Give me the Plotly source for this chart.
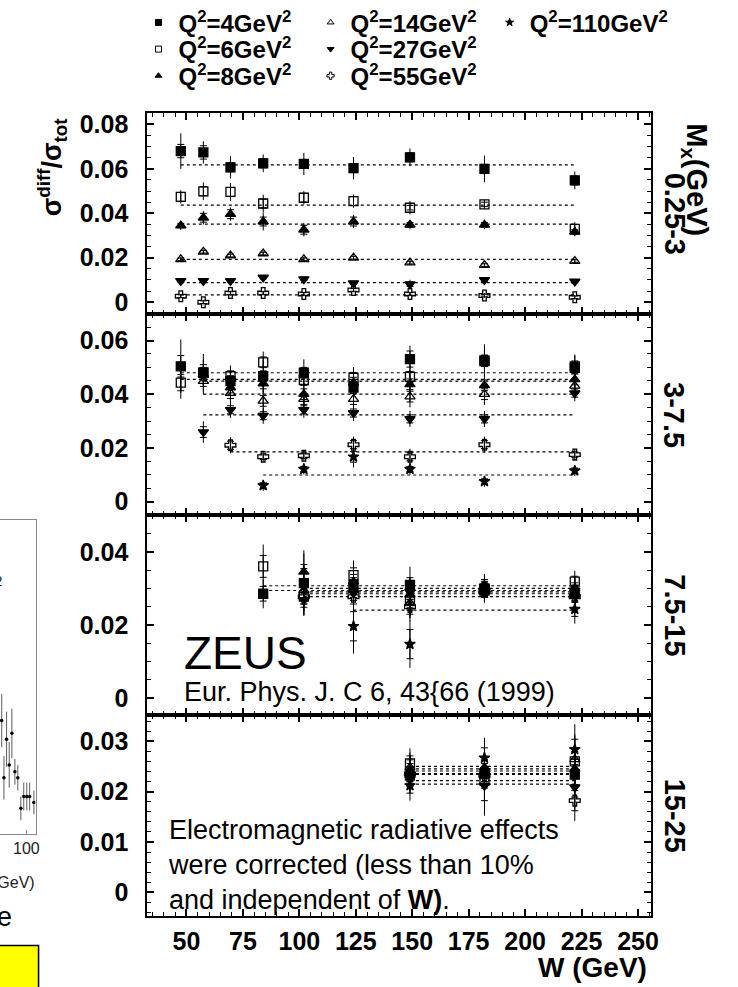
import plotly.graph_objects as go

# ---------------- data ----------------
W_BINS = [47.5, 57.5, 69.5, 84.0, 102.0, 124.0, 149.0, 182.0, 222.0]
Q2_VALUES = [4, 6, 8, 14, 27, 55, 110]
MX_BINS = ["0.25-3", "3-7.5", "7.5-15", "15-25"]
X_TICKS = [50, 75, 100, 125, 150, 175, 200, 225, 250]
N = None

# ---- M_X 0.25-3 GeV ----
P1_Q4 = [0.0680, 0.0674, 0.0607, 0.0625, 0.0622, 0.0603, 0.0652, 0.0600, 0.0548]
P1_Q4_TOT = [0.008, 0.005, 0.005, 0.004, 0.005, 0.005, 0.004, 0.006, 0.004]
P1_Q4_STAT = [0.003, 0.003, 0.002, 0.002, 0.002, 0.002, 0.002, 0.002, 0.002]
P1_Q6 = [0.0474, 0.0499, 0.0496, 0.0444, 0.0470, 0.0455, 0.0425, 0.0440, 0.0330]
P1_Q6_TOT = [0.003, 0.004, 0.004, 0.004, 0.003, 0.003, 0.003, 0.002, 0.003]
P1_Q6_STAT = [0.002, 0.002, 0.002, 0.002, 0.002, 0.002, 0.001, 0.001, 0.002]
P1_Q8 = [0.0345, 0.0380, 0.0396, 0.0363, 0.0326, 0.0363, 0.0348, 0.0348, 0.0316]
P1_Q8_TOT = [0.002, 0.003, 0.003, 0.004, 0.003, 0.003, 0.002, 0.002, 0.002]
P1_Q8_STAT = [0.001, 0.002, 0.002, 0.002, 0.002, 0.002, 0.001, 0.001, 0.001]
P1_Q14 = [0.0193, 0.0227, 0.0210, 0.0219, 0.0193, 0.0200, 0.0178, 0.0167, 0.0185]
P1_Q14_TOT = [0.001, 0.001, 0.001, 0.001, 0.001, 0.001, 0.001, 0.001, 0.001]
P1_Q14_STAT = [0.0006, 0.0006, 0.0006, 0.0006, 0.0006, 0.0006, 0.0006, 0.0006, 0.0006]
P1_Q27 = [0.0096, 0.0096, 0.0096, 0.0111, 0.0104, 0.0086, 0.0081, 0.0100, 0.0093]
P1_Q27_TOT = [0.001, 0.001, 0.001, 0.001, 0.001, 0.001, 0.002, 0.001, 0.001]
P1_Q27_STAT = [0.0006, 0.0006, 0.0006, 0.0006, 0.0006, 0.0006, 0.0010, 0.0006, 0.0006]
P1_Q55 = [0.0027, 0.0000, 0.0041, 0.0041, 0.0037, 0.0055, 0.0037, 0.0030, 0.0022]
P1_Q55_TOT = [0.001, 0.001, 0.001, 0.001, 0.001, 0.001, 0.001, 0.001, 0.001]
P1_Q55_STAT = [0.0006, 0.0006, 0.0006, 0.0006, 0.0006, 0.0006, 0.0006, 0.0006, 0.0006]
P1_Q110 = [N, N, N, N, N, N, N, N, N]
P1_Q110_TOT = [N, N, N, N, N, N, N, N, N]
P1_Q110_STAT = [N, N, N, N, N, N, N, N, N]
P1_FIT = [0.0618, 0.0437, 0.0351, 0.0193, 0.0088, 0.0033, N]

# ---- M_X 3-7.5 GeV ----
P2_Q4 = [0.0504, 0.0480, 0.0449, 0.0467, 0.0480, 0.0425, 0.0531, 0.0526, 0.0498]
P2_Q4_TOT = [0.010, 0.007, 0.005, 0.006, 0.005, 0.005, 0.005, 0.006, 0.005]
P2_Q4_STAT = [0.004, 0.003, 0.002, 0.002, 0.002, 0.002, 0.003, 0.002, 0.002]
P2_Q6 = [0.0443, 0.0480, 0.0467, 0.0519, 0.0453, 0.0461, 0.0465, 0.0523, 0.0504]
P2_Q6_TOT = [0.006, 0.005, 0.004, 0.004, 0.004, 0.004, 0.004, 0.004, 0.004]
P2_Q6_STAT = [0.003, 0.002, 0.002, 0.002, 0.002, 0.002, 0.002, 0.002, 0.002]
P2_Q8 = [N, 0.0474, 0.0425, 0.0440, 0.0400, 0.0443, 0.0437, 0.0433, 0.0455]
P2_Q8_TOT = [N, 0.005, 0.004, 0.004, 0.004, 0.004, 0.004, 0.004, 0.004]
P2_Q8_STAT = [N, 0.002, 0.002, 0.002, 0.002, 0.002, 0.002, 0.002, 0.002]
P2_Q14 = [N, 0.0449, 0.0404, 0.0375, 0.0382, 0.0382, 0.0391, 0.0400, 0.0431]
P2_Q14_TOT = [N, 0.005, 0.004, 0.004, 0.004, 0.004, 0.004, 0.004, 0.004]
P2_Q14_STAT = [N, 0.002, 0.002, 0.002, 0.002, 0.002, 0.002, 0.002, 0.002]
P2_Q27 = [N, 0.0259, 0.0342, 0.0320, 0.0342, 0.0330, 0.0308, 0.0308, 0.0404]
P2_Q27_TOT = [N, 0.004, 0.003, 0.003, 0.003, 0.003, 0.003, 0.003, 0.003]
P2_Q27_STAT = [N, 0.002, 0.0015, 0.0015, 0.0015, 0.0015, 0.0015, 0.0015, 0.0015]
P2_Q55 = [N, N, 0.0210, 0.0167, 0.0171, 0.0212, 0.0167, 0.0212, 0.0175]
P2_Q55_TOT = [N, N, 0.003, 0.002, 0.002, 0.003, 0.003, 0.003, 0.002]
P2_Q55_STAT = [N, N, 0.0015, 0.001, 0.001, 0.0015, 0.0015, 0.0015, 0.001]
P2_Q110 = [N, N, N, 0.0060, 0.0121, 0.0167, 0.0121, 0.0075, 0.0115]
P2_Q110_TOT = [N, N, N, 0.002, 0.002, 0.004, 0.002, 0.002, 0.002]
P2_Q110_STAT = [N, N, N, 0.001, 0.001, 0.002, 0.001, 0.001, 0.001]
P2_FIT = [0.0480, 0.0455, 0.0449, 0.0400, 0.0323, 0.0185, 0.0099]

# ---- M_X 7.5-15 GeV ----
P3_Q4 = [N, N, N, 0.0285, 0.0314, 0.0309, 0.0309, 0.0294, 0.0287]
P3_Q4_TOT = [N, N, N, 0.004, 0.009, 0.005, 0.005, 0.003, 0.004]
P3_Q4_STAT = [N, N, N, 0.002, 0.004, 0.002, 0.002, 0.0015, 0.002]
P3_Q6 = [N, N, N, 0.0360, 0.0277, 0.0336, 0.0268, 0.0300, 0.0318]
P3_Q6_TOT = [N, N, N, 0.006, 0.005, 0.004, 0.005, 0.003, 0.003]
P3_Q6_STAT = [N, N, N, 0.003, 0.002, 0.002, 0.002, 0.0015, 0.0015]
P3_Q8 = [N, N, N, N, 0.0345, 0.0318, 0.0282, 0.0309, 0.0300]
P3_Q8_TOT = [N, N, N, N, 0.005, 0.004, 0.004, 0.003, 0.003]
P3_Q8_STAT = [N, N, N, N, 0.002, 0.002, 0.002, 0.0015, 0.0015]
P3_Q14 = [N, N, N, N, 0.0294, 0.0295, 0.0260, 0.0290, 0.0287]
P3_Q14_TOT = [N, N, N, N, 0.004, 0.004, 0.004, 0.003, 0.003]
P3_Q14_STAT = [N, N, N, N, 0.002, 0.002, 0.002, 0.0015, 0.0015]
P3_Q27 = [N, N, N, N, 0.0268, 0.0287, 0.0290, 0.0304, 0.0294]
P3_Q27_TOT = [N, N, N, N, 0.004, 0.004, 0.004, 0.003, 0.003]
P3_Q27_STAT = [N, N, N, N, 0.002, 0.002, 0.002, 0.0015, 0.0015]
P3_Q55 = [N, N, N, N, 0.0277, 0.0277, 0.0249, 0.0294, 0.0277]
P3_Q55_TOT = [N, N, N, N, 0.004, 0.004, 0.004, 0.003, 0.003]
P3_Q55_STAT = [N, N, N, N, 0.002, 0.002, 0.002, 0.0015, 0.0015]
P3_Q110 = [N, N, N, N, N, 0.0196, 0.0147, 0.0287, 0.0243]
P3_Q110_TOT = [N, N, N, N, N, 0.0075, 0.0065, 0.002, 0.004]
P3_Q110_STAT = [N, N, N, N, N, 0.004, 0.004, 0.001, 0.002]
P3_FIT = [0.0294, 0.0307, 0.0300, 0.0285, 0.0290, 0.0277, 0.0240]

# ---- M_X 15-25 GeV ----
P4_Q4 = [N, N, N, N, N, N, 0.0232, 0.0235, 0.0234]
P4_Q4_TOT = [N, N, N, N, N, N, 0.003, 0.003, 0.004]
P4_Q4_STAT = [N, N, N, N, N, N, 0.0015, 0.0015, 0.002]
P4_Q6 = [N, N, N, N, N, N, 0.0256, 0.0222, 0.0260]
P4_Q6_TOT = [N, N, N, N, N, N, 0.003, 0.003, 0.005]
P4_Q6_STAT = [N, N, N, N, N, N, 0.0015, 0.0015, 0.002]
P4_Q8 = [N, N, N, N, N, N, 0.0241, 0.0248, 0.0245]
P4_Q8_TOT = [N, N, N, N, N, N, 0.003, 0.003, 0.004]
P4_Q8_STAT = [N, N, N, N, N, N, 0.0015, 0.0015, 0.002]
P4_Q14 = [N, N, N, N, N, N, 0.0248, 0.0241, 0.0264]
P4_Q14_TOT = [N, N, N, N, N, N, 0.003, 0.003, 0.005]
P4_Q14_STAT = [N, N, N, N, N, N, 0.0015, 0.0015, 0.002]
P4_Q27 = [N, N, N, N, N, N, 0.0225, 0.0212, 0.0209]
P4_Q27_TOT = [N, N, N, N, N, N, 0.003, 0.006, 0.004]
P4_Q27_STAT = [N, N, N, N, N, N, 0.0015, 0.003, 0.002]
P4_Q55 = [N, N, N, N, N, N, 0.0235, 0.0232, 0.0182]
P4_Q55_TOT = [N, N, N, N, N, N, 0.003, 0.003, 0.004]
P4_Q55_STAT = [N, N, N, N, N, N, 0.0015, 0.0015, 0.002]
P4_Q110 = [N, N, N, N, N, N, 0.0212, 0.0267, 0.0284]
P4_Q110_TOT = [N, N, N, N, N, N, 0.003, 0.004, 0.005]
P4_Q110_STAT = [N, N, N, N, N, N, 0.0015, 0.002, 0.002]
P4_FIT = [0.0234, 0.0245, 0.0241, 0.0250, 0.0215, 0.0222, 0.0236]

P1_YTICKS = [0, 0.02, 0.04, 0.06, 0.08]
P2_YTICKS = [0, 0.02, 0.04, 0.06]
P3_YTICKS = [0, 0.02, 0.04]
P4_YTICKS = [0, 0.01, 0.02, 0.03]
P1_YRANGE = [-0.0053, 0.0853]
P2_YRANGE = [-0.0051, 0.0699]
P3_YRANGE = [-0.0046, 0.0500]
P4_YRANGE = [-0.0047, 0.0353]
X_RANGE = [32.7, 255.7]

# cut-off neighbouring slide chart on the left edge
FRAG_W = [81.3, 83.0, 85.0, 87.0, 89.0, 91.3, 93.5, 95.8, 98.0, 100.3, 102.5, 105.7]
FRAG_Y = [115, 57, 96, 70, 102, 63, 57, 26, 38, 38, 38, 32]
FRAG_ERR = [27, 22, 28, 23, 25, 13, 13, 12, 14, 14, 14, 12]
FRAG_XTICKS = [100]

# ---------------- assemble ----------------
PANELS = [
    [(P1_Q4, P1_Q4_TOT, P1_Q4_STAT), (P1_Q6, P1_Q6_TOT, P1_Q6_STAT), (P1_Q8, P1_Q8_TOT, P1_Q8_STAT),
     (P1_Q14, P1_Q14_TOT, P1_Q14_STAT), (P1_Q27, P1_Q27_TOT, P1_Q27_STAT), (P1_Q55, P1_Q55_TOT, P1_Q55_STAT),
     (P1_Q110, P1_Q110_TOT, P1_Q110_STAT)],
    [(P2_Q4, P2_Q4_TOT, P2_Q4_STAT), (P2_Q6, P2_Q6_TOT, P2_Q6_STAT), (P2_Q8, P2_Q8_TOT, P2_Q8_STAT),
     (P2_Q14, P2_Q14_TOT, P2_Q14_STAT), (P2_Q27, P2_Q27_TOT, P2_Q27_STAT), (P2_Q55, P2_Q55_TOT, P2_Q55_STAT),
     (P2_Q110, P2_Q110_TOT, P2_Q110_STAT)],
    [(P3_Q4, P3_Q4_TOT, P3_Q4_STAT), (P3_Q6, P3_Q6_TOT, P3_Q6_STAT), (P3_Q8, P3_Q8_TOT, P3_Q8_STAT),
     (P3_Q14, P3_Q14_TOT, P3_Q14_STAT), (P3_Q27, P3_Q27_TOT, P3_Q27_STAT), (P3_Q55, P3_Q55_TOT, P3_Q55_STAT),
     (P3_Q110, P3_Q110_TOT, P3_Q110_STAT)],
    [(P4_Q4, P4_Q4_TOT, P4_Q4_STAT), (P4_Q6, P4_Q6_TOT, P4_Q6_STAT), (P4_Q8, P4_Q8_TOT, P4_Q8_STAT),
     (P4_Q14, P4_Q14_TOT, P4_Q14_STAT), (P4_Q27, P4_Q27_TOT, P4_Q27_STAT), (P4_Q55, P4_Q55_TOT, P4_Q55_STAT),
     (P4_Q110, P4_Q110_TOT, P4_Q110_STAT)],
]
FITS = [P1_FIT, P2_FIT, P3_FIT, P4_FIT]
YTICKS = [P1_YTICKS, P2_YTICKS, P3_YTICKS, P4_YTICKS]
YRANGES = [P1_YRANGE, P2_YRANGE, P3_YRANGE, P4_YRANGE]

# ---------------- style ----------------
SYMBOLS = ["square", "square-open", "triangle-up", "triangle-up-open",
           "triangle-down", "cross-open", "star"]
SIZES = [9, 9, 9, 9, 9, 9, 8]
FONT = "Liberation Sans"
# legend slot (pixel) for each Q2 entry: (left x, row centre y)
LEGEND_SLOTS = [(140, 12), (140, 39), (140, 66), (314, 12), (314, 39), (314, 66), (495, 12)]

FIG_W, FIG_H = 738, 987
def fx(p):
    return p / FIG_W
def fy(p):
    return 1 - p / FIG_H

FRAME_X0, FRAME_X1 = 149, 658
PANEL_EDGES = [103, 307, 511, 713, 917]

fig = go.Figure()

for i, panel in enumerate(PANELS):
    ax = "" if i == 0 else str(i + 1)
    xa, ya = "x" + ax, "y" + ax
    for j, (vals, tot, stat) in enumerate(panel):
        fit = FITS[i][j]
        if fit is None:
            continue
        ws = [w for w, v in zip(W_BINS, vals) if v is not None]
        fig.add_trace(go.Scatter(
            x=[ws[0], ws[-1]], y=[fit, fit], mode="lines", xaxis=xa, yaxis=ya,
            line=dict(color="black", width=1.2, dash="dot"), showlegend=False, hoverinfo="skip"))
    for j, (vals, tot, stat) in enumerate(panel):
        fig.add_trace(go.Scatter(
            x=W_BINS, y=vals, mode="markers", xaxis=xa, yaxis=ya,
            marker=dict(size=1, color="rgba(0,0,0,0)"),
            error_y=dict(type="data", array=tot, symmetric=True, width=0, thickness=1, color="black"),
            showlegend=False, hoverinfo="skip"))
    for j, (vals, tot, stat) in enumerate(panel):
        fig.add_trace(go.Scatter(
            x=W_BINS, y=vals, mode="markers", xaxis=xa, yaxis=ya,
            marker=dict(symbol=SYMBOLS[j], size=SIZES[j], color="black",
                        line=dict(color="black", width=1.3)),
            error_y=dict(type="data", array=stat, symmetric=True, width=3.5, thickness=1, color="black"),
            name=f"Q²={Q2_VALUES[j]}", showlegend=False))

# legend entries: one small legend per entry so rows/columns match the original layout
legend_font = dict(family=FONT, size=24, color="black", weight="bold")
legend_layouts = {}
for j, q in enumerate(Q2_VALUES):
    lname = "legend" if j == 0 else f"legend{j + 1}"
    fig.add_trace(go.Scatter(
        x=[None], y=[None], mode="markers",
        marker=dict(symbol=SYMBOLS[j], size=6, color="black", line=dict(color="black", width=1)),
        name=f"Q<sup>2</sup>={q}GeV<sup>2</sup>", legend=lname, showlegend=True))
    lx, ly = LEGEND_SLOTS[j]
    legend_layouts[lname] = dict(x=fx(lx), y=fy(ly), xanchor="left", yanchor="middle",
                                 font=legend_font, itemwidth=30, tracegroupgap=0,
                                 bgcolor="rgba(0,0,0,0)", borderwidth=0, itemsizing="trace")

# fragment of a neighbouring chart (left edge)
fig.add_trace(go.Scatter(
    x=FRAG_W, y=FRAG_Y, mode="markers", xaxis="x5", yaxis="y5",
    marker=dict(size=3.5, color="black"),
    error_y=dict(type="data", array=FRAG_ERR, width=0, thickness=0.8, color="#333"),
    showlegend=False, hoverinfo="skip"))

axis_common = dict(showline=True, linecolor="black", linewidth=2, mirror="ticks",
                   ticks="inside", tickcolor="black", tickwidth=1.5, ticklen=7,
                   showgrid=False, zeroline=False)
layout = dict(
    width=FIG_W, height=FIG_H, margin=dict(l=0, r=0, t=0, b=0),
    paper_bgcolor="white", plot_bgcolor="white", showlegend=True,
)
for i in range(4):
    ax = "" if i == 0 else str(i + 1)
    top, bot = PANEL_EDGES[i], PANEL_EDGES[i + 1]
    layout["xaxis" + ax] = dict(
        axis_common, domain=[fx(FRAME_X0), fx(FRAME_X1)], anchor="y" + ax,
        range=X_RANGE, tickvals=X_TICKS, showticklabels=(i == 3),
        minor=dict(dtick=5, tick0=0, ticks="inside", ticklen=4, tickwidth=1, tickcolor="black"),
        tickfont=dict(family=FONT, size=25, color="black", weight="bold"),
        ticklabelstandoff=2,
        **({} if i == 0 else {"matches": "x"}))
    layout["yaxis" + ax] = dict(
        axis_common, domain=[fy(bot), fy(top)], anchor="x" + ax,
        range=YRANGES[i], tickvals=YTICKS[i],
        minor=dict(dtick=(0.002 if i == 3 else 0.005), tick0=0, ticks="inside", ticklen=4,
                   tickwidth=1, tickcolor="black"),
        tickfont=dict(family=FONT, size=25, color="black", weight="bold"),
        ticklabelstandoff=12)

layout["xaxis5"] = dict(domain=[0, fx(36)], anchor="y5", range=[80, 107],
                        showline=True, linecolor="#888", linewidth=1, mirror=True,
                        ticks="inside", ticklen=4, tickcolor="#888", tickvals=FRAG_XTICKS,
                        tickfont=dict(family=FONT, size=16, color="#222"),
                        showgrid=False, zeroline=False)
layout["yaxis5"] = dict(domain=[fy(834), fy(516)], anchor="x5", range=[0, 318], side="right",
                        showline=True, linecolor="#888", linewidth=1, showticklabels=False,
                        ticks="", showgrid=False, zeroline=False)
layout.update(legend_layouts)
fig.update_layout(**layout)


def note(px, py, text, size, xanchor="center", yanchor="middle", angle=0, bold=False,
         family=FONT, color="black", align="left"):
    f = dict(family=family, size=size, color=color)
    if bold:
        f["weight"] = "bold"
    return dict(x=fx(px), y=fy(py), xref="paper", yref="paper", showarrow=False,
                xanchor=xanchor, yanchor=yanchor, textangle=angle, text=text, font=f, align=align)


ann = [
    note(52, 158, "σ<sup>diff</sup>/σ<sub>tot</sub>", 27, angle=-90, bold=True),
    note(FRAME_X1 + 45, 171, "M<sub>x</sub>(GeV)", 29, angle=90, bold=True),
    note(FRAME_X1 - 2, 987, "W (GeV)", 28, xanchor="right", yanchor="bottom", bold=True),
    note(184, 651, "ZEUS", 46, xanchor="left"),
    note(184, 690, "Eur. Phys. J. C 6, 43{66 (1999)", 27, xanchor="left"),
    note(168, 813, "Electromagnetic radiative effects<br>were corrected (less than 10%<br>"
                   "and independent of <b>W)</b>.", 27, xanchor="left", yanchor="top"),
    note(5, 578, "2", 15, xanchor="right", family="Liberation Serif", color="#222"),
    note(37, 883, "(GeV)", 16, xanchor="right", color="#222"),
    note(14, 918, "e", 27, xanchor="right"),
]
for i, lab in enumerate(MX_BINS):
    ann.append(note(FRAME_X1 + 24, (PANEL_EDGES[i] + PANEL_EDGES[i + 1]) / 2, lab, 29,
                    angle=90, bold=True))
fig.update_layout(annotations=ann)

fig.add_shape(type="rect", xref="paper", yref="paper", x0=fx(-5), x1=fx(39), y0=fy(995), y1=fy(947),
              fillcolor="#ffff00", line=dict(color="black", width=1.5), layer="above")

fig.write_html("out.html")
